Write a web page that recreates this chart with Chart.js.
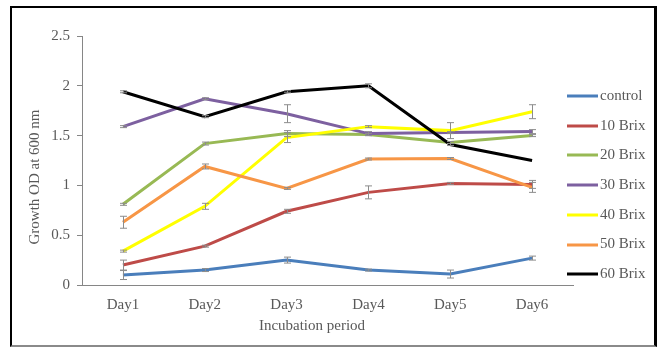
<!DOCTYPE html>
<html>
<head>
<meta charset="utf-8">
<script src="https://cdn.jsdelivr.net/npm/chart.js@4"></script>
<style>
  body { margin: 0; background: #fff; }
  #wrap { position: relative; width: 661px; height: 349px; }
  #frame {
    position: absolute; left: 10px; top: 6px; width: 647px; height: 341px;
    box-sizing: border-box; border: 2px solid #000; border-right-width: 3px;
    border-bottom-color: #8a8a8a; pointer-events: none;
  }
  #chart { position: absolute; left: 0; top: 0; }
</style>
</head>
<body>
<div id="wrap">
  <div id="frame"></div>
  <canvas id="chart" width="661" height="349"></canvas>
</div>
<script>
// Data
const days = ['Day1', 'Day2', 'Day3', 'Day4', 'Day5', 'Day6'];
const seriesNames = ['control', '10 Brix', '20 Brix', '30 Brix', '40 Brix', '50 Brix', '60 Brix'];
const control = [0.10, 0.15, 0.25, 0.15, 0.11, 0.27];
const brix10 = [0.20, 0.39, 0.74, 0.93, 1.02, 1.01];
const brix20 = [0.81, 1.42, 1.52, 1.51, 1.43, 1.50];
const brix30 = [1.59, 1.87, 1.72, 1.52, 1.53, 1.54];
const brix40 = [0.34, 0.79, 1.48, 1.59, 1.55, 1.74];
const brix50 = [0.63, 1.19, 0.97, 1.265, 1.27, 0.98];
const brix60 = [1.94, 1.69, 1.94, 2.00, 1.41, 1.25];
// error bar half-lengths
const controlErr = [0.045, 0.015, 0.03, 0.01, 0.04, 0.02];
const brix10Err = [0.05, 0.01, 0.02, 0.065, 0.01, 0.04];
const brix20Err = [0.01, 0.015, 0.03, 0.01, 0.01, 0.01];
const brix30Err = [0.01, 0.01, 0.09, 0.02, 0.01, 0.02];
const brix40Err = [0.01, 0.03, 0.05, 0.01, 0.08, 0.07];
const brix50Err = [0.06, 0.025, 0.01, 0.01, 0.01, 0.05];
const brix60Err = [0.01, 0.01, 0.01, 0.02, 0.01, 0];
const yTicks = [0, 0.5, 1, 1.5, 2, 2.5];

const colors = ['#4a7ebb', '#be4b48', '#98b954', '#7d60a0', '#ffff00', '#f79646', '#000000'];
const values = [control, brix10, brix20, brix30, brix40, brix50, brix60];
const errors = [controlErr, brix10Err, brix20Err, brix30Err, brix40Err, brix50Err, brix60Err];

const textColor = '#595959';
const fontFamily = "'Liberation Serif', 'Times New Roman', serif";
Chart.defaults.font.family = fontFamily;
Chart.defaults.font.size = 15;
Chart.defaults.color = textColor;

// Error bars, legend and axis titles drawn on top of the datasets
const extrasPlugin = {
  id: 'extras',
  afterDatasetsDraw(chart) {
    const ctx = chart.ctx;
    const x = chart.scales.x, y = chart.scales.y;
    ctx.save();
    ctx.strokeStyle = '#8c8c8c';
    ctx.lineWidth = 1;
    chart.data.datasets.forEach(ds => {
      ds.data.forEach((v, i) => {
        const e = ds.err[i];
        if (!e) return;
        const px = Math.round(x.getPixelForValue(i)) + 0.5;
        const top = y.getPixelForValue(v + e);
        const bot = y.getPixelForValue(v - e);
        ctx.beginPath();
        ctx.moveTo(px, top); ctx.lineTo(px, bot);
        ctx.moveTo(px - 3.5, top); ctx.lineTo(px + 3.5, top);
        ctx.moveTo(px - 3.5, bot); ctx.lineTo(px + 3.5, bot);
        ctx.stroke();
      });
    });
    ctx.restore();
  },
  afterDraw(chart) {
    const ctx = chart.ctx;
    ctx.save();
    ctx.font = '15px ' + fontFamily;
    ctx.fillStyle = textColor;
    // legend
    ctx.textBaseline = 'middle';
    ctx.textAlign = 'left';
    chart.data.datasets.forEach((ds, i) => {
      const ly = 96 + i * 29.7;
      ctx.fillStyle = ds.borderColor;
      ctx.fillRect(567, Math.round(ly) - 1.5, 31, 3);
      ctx.fillStyle = textColor;
      ctx.fillText(ds.label, 600, ly);
    });
    // axis titles
    ctx.textAlign = 'center';
    ctx.fillText('Incubation period', 312, 326);
    ctx.translate(35, 177);
    ctx.rotate(-Math.PI / 2);
    ctx.fillText('Growth OD at 600 nm', 0, 0);
    ctx.restore();
  }
};

new Chart(document.getElementById('chart'), {
  type: 'line',
  data: {
    labels: days,
    datasets: seriesNames.map((name, i) => ({
      label: name,
      data: values[i],
      err: errors[i],
      borderColor: colors[i],
      backgroundColor: colors[i],
      borderWidth: 3,
      pointRadius: 0,
      tension: 0,
      order: seriesNames.length - i
    }))
  },
  options: {
    responsive: false,
    animation: false,
    layout: { padding: { left: 22, right: 88, top: 36, bottom: 34 } },
    plugins: { legend: { display: false }, tooltip: { enabled: false } },
    scales: {
      x: {
        offset: true,
        grid: { display: false, drawTicks: false },
        border: { color: '#868686', width: 1 },
        ticks: { padding: 11, color: textColor },
        afterFit(scale) { scale.height = 30; }
      },
      y: {
        min: 0,
        max: 2.5,
        afterBuildTicks(scale) { scale.ticks = yTicks.map(v => ({ value: v })); },
        grid: { drawOnChartArea: false, drawTicks: true, tickLength: 5, color: '#868686' },
        border: { color: '#868686', width: 1 },
        ticks: { padding: 7, color: textColor, callback: v => String(v) },
        afterFit(scale) { scale.width = 60; }
      }
    }
  },
  plugins: [extrasPlugin]
});
</script>
</body>
</html>
